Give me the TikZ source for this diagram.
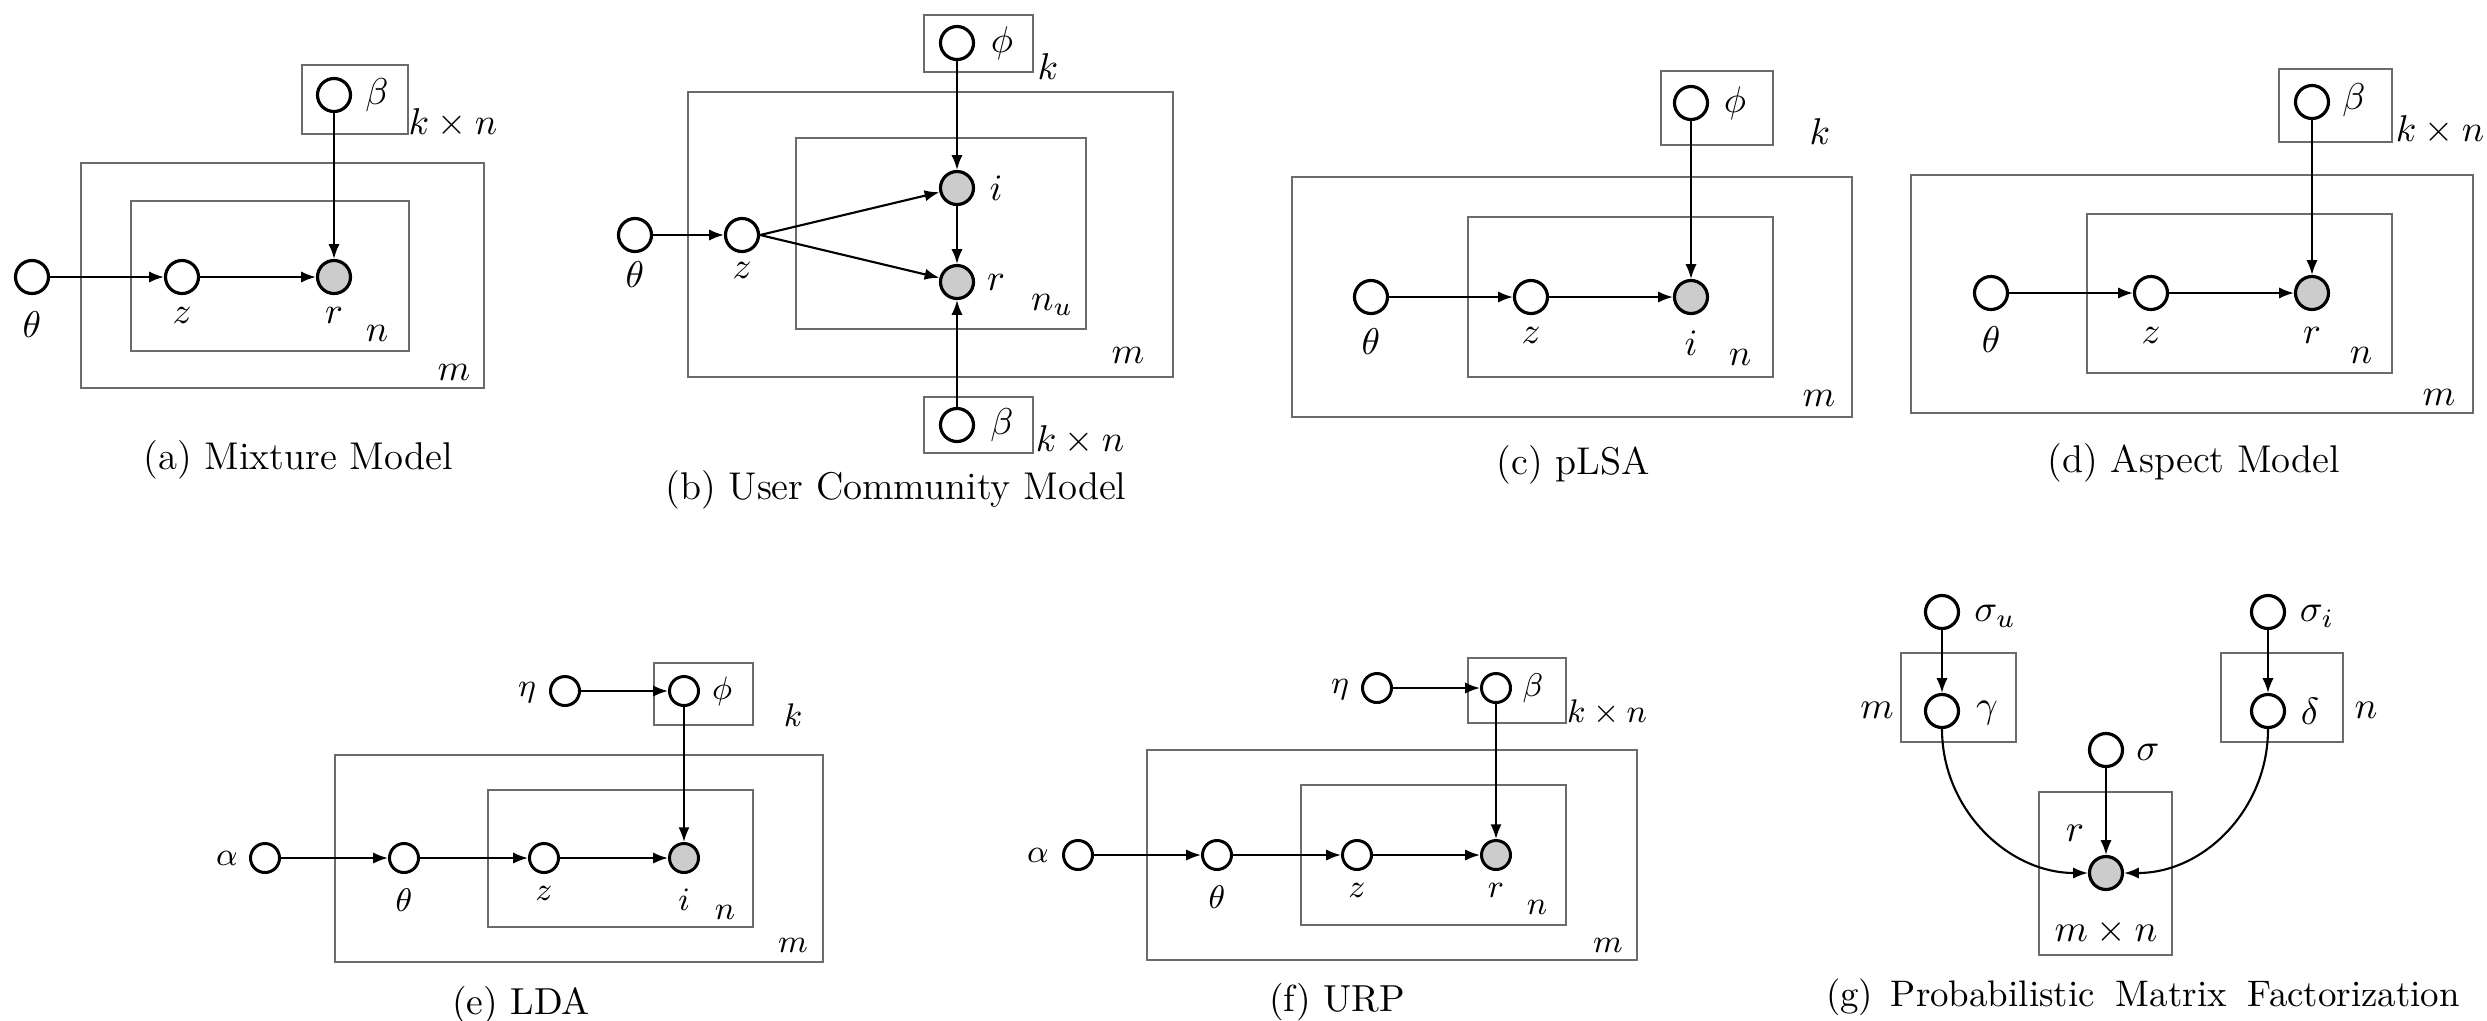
\RequirePackage{fix-cm}
\documentclass[tikz,border=0pt]{standalone}
\usepackage{amsmath}
\usetikzlibrary{arrows.meta}
\definecolor{plategray}{gray}{0.42}
\definecolor{obsgray}{gray}{0.8}

\begin{document}
\begin{tikzpicture}[x=0.01cm, y=-0.01cm, latent/.style={circle, draw, line width=0.9pt, minimum size=0.33cm, inner sep=0pt}, obs/.style={latent, fill=obsgray}, small/.style={minimum size=0.29cm, line width=0.85pt}, plate/.style={draw=plategray, line width=0.7pt}, arrow/.style={-{Latex[length=4.2pt,width=3.2pt]}, line width=0.6pt}, lbl/.style={inner sep=0pt, font=\fontsize{10.6}{12}\selectfont}, slbl/.style={inner sep=0pt, font=\fontsize{9.3}{11}\selectfont}, glbl/.style={inner sep=0pt, font=\fontsize{10.8}{12}\selectfont}, subcap/.style={inner sep=0pt, font=\fontsize{11}{13}\selectfont}, ssubcap/.style={inner sep=0pt, font=\fontsize{10.7}{12}\selectfont}]
\useasboundingbox (0,0) rectangle (2487,1020);
% (a) Mixture Model
\draw[plate] (302,65) rectangle (408,134);
\draw[plate] (81,163) rectangle (484,388);
\draw[plate] (131,201) rectangle (409,351);
\node[latent] (atheta) at (32,277) {};
\node[latent] (az) at (182,277) {};
\node[obs] (ar) at (334,277) {};
\node[latent] (abeta) at (334,95) {};
\node[lbl] (athetalbl) at (32,325) {$\theta$};
\node[lbl] (azlbl) at (182,315) {$z$};
\node[lbl] (arlbl) at (334,315) {$r$};
\node[lbl] (abetalbl) at (377,95) {$\beta$};
\node[lbl] (akn) at (453,123) {$k\times n$};
\node[lbl] (an) at (377,333) {$n$};
\node[lbl] (am) at (454,372) {$m$};
\node[subcap] (acap) at (298,460) {(a) Mixture Model};
\draw[arrow] (atheta)--(az);
\draw[arrow] (az)--(ar);
\draw[arrow] (abeta)--(ar);
% (b) User Community Model
\draw[plate] (924,15) rectangle (1033,72);
\draw[plate] (688,92) rectangle (1173,377);
\draw[plate] (796,138) rectangle (1086,329);
\draw[plate] (924,397) rectangle (1033,453);
\node[latent] (btheta) at (635,235) {};
\node[latent] (bz) at (742,235) {};
\node[obs] (bi) at (957,188) {};
\node[obs] (br) at (957,282) {};
\node[latent] (bphi) at (957,43) {};
\node[latent] (bbeta) at (957,425) {};
\node[lbl] (bthetalbl) at (635,275) {$\theta$};
\node[lbl] (bzlbl) at (742,270) {$z$};
\node[lbl] (bilbl) at (996,188) {$i$};
\node[lbl] (brlbl) at (996,282) {$r$};
\node[lbl] (bphilbl) at (1002,43) {$\phi$};
\node[lbl] (bbetalbl) at (1002,425) {$\beta$};
\node[lbl] (bk) at (1048,67) {$k$};
\node[lbl] (bnu) at (1052,305) {$n_u$};
\node[lbl] (bm) at (1128,355) {$m$};
\node[lbl] (bkn) at (1080,440) {$k\times n$};
\node[subcap] (bcap) at (896,490) {(b) User Community Model};
\draw[arrow] (btheta)--(bz);
\draw[arrow] (bz.east)--(bi);
\draw[arrow] (bz.east)--(br);
\draw[arrow] (bphi)--(bi);
\draw[arrow] (bi)--(br);
\draw[arrow] (bbeta)--(br);
% (c) pLSA
\draw[plate] (1661,71) rectangle (1773,145);
\draw[plate] (1292,177) rectangle (1852,417);
\draw[plate] (1468,217) rectangle (1773,377);
\node[latent] (ctheta) at (1371,297) {};
\node[latent] (cz) at (1531,297) {};
\node[obs] (ci) at (1691,297) {};
\node[latent] (cphi) at (1691,103) {};
\node[lbl] (cthetalbl) at (1371,342) {$\theta$};
\node[lbl] (czlbl) at (1531,335) {$z$};
\node[lbl] (cilbl) at (1691,343) {$i$};
\node[lbl] (cphilbl) at (1735,103) {$\phi$};
\node[lbl] (ck) at (1820,132) {$k$};
\node[lbl] (cn) at (1740,357) {$n$};
\node[lbl] (cm) at (1819,398) {$m$};
\node[subcap] (ccap) at (1573,465) {(c) pLSA};
\draw[arrow] (ctheta)--(cz);
\draw[arrow] (cz)--(ci);
\draw[arrow] (cphi)--(ci);
% (d) Aspect Model
\draw[plate] (2279,69) rectangle (2392,142);
\draw[plate] (1911,175) rectangle (2473,413);
\draw[plate] (2087,214) rectangle (2392,373);
\node[latent] (dtheta) at (1991,293) {};
\node[latent] (dz) at (2151,293) {};
\node[obs] (dr) at (2312,293) {};
\node[latent] (dbeta) at (2312,102) {};
\node[lbl] (dthetalbl) at (1991,340) {$\theta$};
\node[lbl] (dzlbl) at (2151,335) {$z$};
\node[lbl] (drlbl) at (2312,335) {$r$};
\node[lbl] (dbetalbl) at (2354,100) {$\beta$};
\node[lbl] (dkn) at (2440,130) {$k\times n$};
\node[lbl] (dn) at (2361,355) {$n$};
\node[lbl] (dm) at (2439,397) {$m$};
\node[subcap] (dcap) at (2194,463) {(d) Aspect Model};
\draw[arrow] (dtheta)--(dz);
\draw[arrow] (dz)--(dr);
\draw[arrow] (dbeta)--(dr);
% (e) LDA
\draw[plate] (654,663) rectangle (753,725);
\draw[plate] (335,755) rectangle (823,962);
\draw[plate] (488,790) rectangle (753,927);
\node[latent, small] (ealpha) at (265,858) {};
\node[latent, small] (etheta) at (404,858) {};
\node[latent, small] (ez) at (544,858) {};
\node[obs, small] (ei) at (684,858) {};
\node[latent, small] (eeta) at (565,691) {};
\node[latent, small] (ephi) at (684,691) {};
\node[slbl] (ealphalbl) at (227,858) {$\alpha$};
\node[slbl] (ethetalbl) at (404,900) {$\theta$};
\node[slbl] (ezlbl) at (544,893) {$z$};
\node[slbl] (eilbl) at (684,900) {$i$};
\node[slbl] (eetalbl) at (527,693) {$\eta$};
\node[slbl] (ephilbl) at (722,691) {$\phi$};
\node[slbl] (ek) at (793,715) {$k$};
\node[slbl] (en) at (725,912) {$n$};
\node[slbl] (em) at (793,945) {$m$};
\node[ssubcap] (ecap) at (521,1005) {(e) LDA};
\draw[arrow] (ealpha)--(etheta);
\draw[arrow] (etheta)--(ez);
\draw[arrow] (ez)--(ei);
\draw[arrow] (eeta)--(ephi);
\draw[arrow] (ephi)--(ei);
% (f) URP
\draw[plate] (1468,658) rectangle (1566,723);
\draw[plate] (1147,750) rectangle (1637,960);
\draw[plate] (1301,785) rectangle (1566,925);
\node[latent, small] (falpha) at (1078,855) {};
\node[latent, small] (ftheta) at (1217,855) {};
\node[latent, small] (fz) at (1357,855) {};
\node[obs, small] (fr) at (1496,855) {};
\node[latent, small] (feta) at (1377,688) {};
\node[latent, small] (fbeta) at (1496,688) {};
\node[slbl] (falphalbl) at (1038,855) {$\alpha$};
\node[slbl] (fthetalbl) at (1217,897) {$\theta$};
\node[slbl] (fzlbl) at (1357,890) {$z$};
\node[slbl] (frlbl) at (1496,890) {$r$};
\node[slbl] (fetalbl) at (1340,690) {$\eta$};
\node[slbl] (fbetalbl) at (1533,688) {$\beta$};
\node[slbl] (fkn) at (1607,713) {$k\times n$};
\node[slbl] (fn) at (1537,907) {$n$};
\node[slbl] (fm) at (1608,945) {$m$};
\node[ssubcap] (fcap) at (1337,1002) {(f) URP};
\draw[arrow] (falpha)--(ftheta);
\draw[arrow] (ftheta)--(fz);
\draw[arrow] (fz)--(fr);
\draw[arrow] (feta)--(fbeta);
\draw[arrow] (fbeta)--(fr);
% (g) Probabilistic Matrix Factorization
\draw[plate] (1901,653) rectangle (2016,742);
\draw[plate] (2221,653) rectangle (2343,742);
\draw[plate] (2039,792) rectangle (2172,955);
\node[latent] (gsigmau) at (1942,612) {};
\node[latent] (gsigmai) at (2268,612) {};
\node[latent] (ggamma) at (1942,711) {};
\node[latent] (gdelta) at (2268,711) {};
\node[latent] (gsigma) at (2106,750) {};
\node[obs] (gr) at (2106,873) {};
\node[glbl] (gsigmaulbl) at (1995,616) {$\sigma_u$};
\node[glbl] (gsigmailbl) at (2317,616) {$\sigma_i$};
\node[glbl] (ggammalbl) at (1987,713) {$\gamma$};
\node[glbl] (gdeltalbl) at (2310,711) {$\delta$};
\node[glbl] (gsigmalbl) at (2148,752) {$\sigma$};
\node[glbl] (grlbl) at (2075,833) {$r$};
\node[glbl] (gm) at (1877,710) {$m$};
\node[glbl] (gn) at (2366,710) {$n$};
\node[glbl] (gmn) at (2106,932) {$m\times n$};
\node[ssubcap, font=\fontsize{10.5}{12}\selectfont] (gcap) at (2143,997) {(g)\hspace{5pt}Probabilistic\hspace{6pt}Matrix\hspace{6pt}Factorization};
\draw[arrow] (gsigmau)--(ggamma);
\draw[arrow] (gsigmai)--(gdelta);
\draw[arrow] (gsigma)--(gr);
\draw[arrow] (ggamma.south) .. controls +(0,80) and +(-80,0) .. (gr.west);
\draw[arrow] (gdelta.south) .. controls +(0,80) and +(80,0) .. (gr.east);
\end{tikzpicture}
\end{document}
